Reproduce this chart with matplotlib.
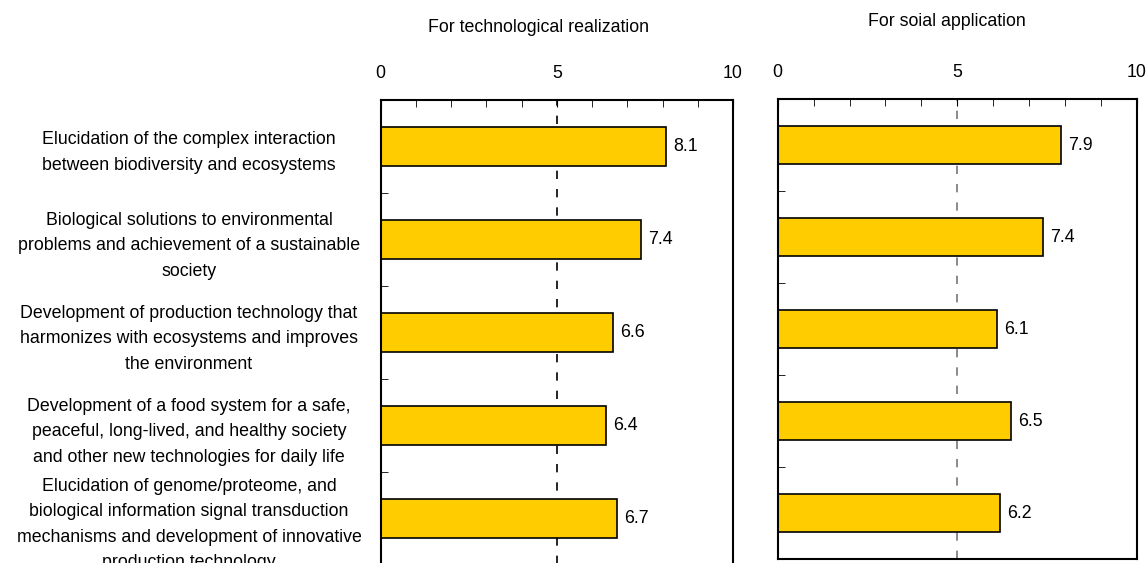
import numpy as np
import matplotlib.pyplot as plt
from matplotlib.ticker import MultipleLocator

plt.rcParams['font.family'] = ['Liberation Sans', 'DejaVu Sans']

themes = [
    "Elucidation of the complex interaction\nbetween biodiversity and ecosystems",
    "Biological solutions to environmental\nproblems and achievement of a sustainable\nsociety",
    "Development of production technology that\nharmonizes with ecosystems and improves\nthe environment",
    "Development of a food system for a safe,\npeaceful, long-lived, and healthy society\nand other new technologies for daily life",
    "Elucidation of genome/proteome, and\nbiological information signal transduction\nmechanisms and development of innovative\nproduction technology",
]
tech_scores = [8.1, 7.4, 6.6, 6.4, 6.7]
social_scores = [7.9, 7.4, 6.1, 6.5, 6.2]

W, H = 1147, 563
fig = plt.figure(figsize=(W / 100, H / 100), dpi=100)

def px_axes(x0, x1, y0, y1):
    return fig.add_axes([x0 / W, 1 - y1 / H, (x1 - x0) / W, (y1 - y0) / H])

ax_tech = px_axes(380.7, 733, 100, 565)
ax_soc = px_axes(777.7, 1136.7, 99, 559)

ypos = np.arange(len(themes))
bar_color = "#FFCC00"
fs = 12.8

for ax, vals, vcol in [(ax_tech, tech_scores, "black"), (ax_soc, social_scores, "#777777")]:
    ax.axvline(5, color=vcol, lw=1.2, ls=(0, (5, 6)), zorder=1)
    ax.barh(ypos, vals, height=0.42, color=bar_color, edgecolor="black", lw=1.2, zorder=2)
    for y, v in zip(ypos, vals):
        ax.text(v + 0.2, y, f"{v:.1f}", va="center", ha="left", fontsize=fs)
    ax.set_xlim(0, 10)
    ax.set_ylim(len(themes) - 0.5, -0.5)
    ax.xaxis.tick_top()
    ax.set_xticks([0, 5, 10])
    ax.xaxis.set_minor_locator(MultipleLocator(1))
    ax.tick_params(axis="x", which="major", direction="in", length=5, pad=13, labelsize=fs)
    ax.tick_params(axis="x", which="minor", direction="in", length=5)
    ax.set_yticks(ypos)
    ax.set_yticks(ypos[:-1] + 0.5, minor=True)
    ax.tick_params(axis="y", which="major", length=0, labelsize=fs)
    ax.tick_params(axis="y", which="minor", direction="in", length=5)
    for s in ax.spines.values():
        s.set_linewidth(1.5)

ax_tech.set_yticklabels(themes, ha="center", multialignment="center", linespacing=1.65)
ax_tech.tick_params(axis="y", which="major", pad=138)
ax_soc.set_yticklabels([])

fig.text(538 / W, 1 - 27 / H, "For technological realization", ha="center", va="center", fontsize=fs)
fig.text(947 / W, 1 - 22 / H, "For soial application", ha="center", va="center", fontsize=fs)

fig.savefig("out.png", dpi=100)
